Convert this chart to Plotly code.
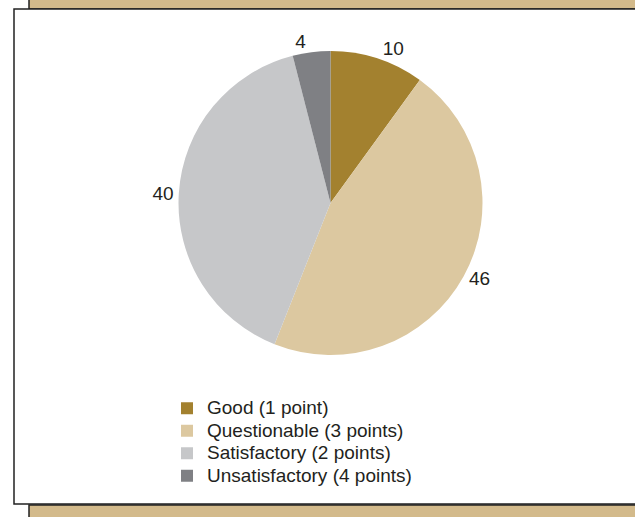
import plotly.graph_objects as go

categories = ["Good (1 point)", "Questionable (3 points)", "Satisfactory (2 points)", "Unsatisfactory (4 points)"]
values = [10, 46, 40, 4]
colors = ["#a3812f", "#dcc8a0", "#c6c7c9", "#7f8084"]

W, H = 635, 517

def px(x):
    return x / W

def py(y):
    return 1 - y / H

cx, cy, r = 330.5, 203, 152
FONT = "Liberation Sans, Arial, sans-serif"

# legend labels shown larger than the legend's row spacing font
legend_labels = ['<span style="font-size:19px">%s</span>' % c for c in categories]

fig = go.Figure(go.Pie(
    labels=legend_labels,
    values=values,
    marker=dict(colors=colors, line=dict(width=0)),
    sort=False,
    direction="clockwise",
    rotation=0,
    textinfo="value",
    textposition="outside",
    outsidetextfont=dict(size=19, color="#231f20", family=FONT),
    hole=0,
    domain=dict(x=[px(cx - r), px(cx + r)], y=[py(cy + r), py(cy - r)]),
    automargin=False,
    hoverinfo="value+percent",
))

tan = "#d3ba8b"
shapes = [
    dict(type="rect", xref="paper", yref="paper", x0=px(29), x1=px(640), y0=py(9), y1=py(-5),
         fillcolor=tan, line=dict(color="#222222", width=1.5), layer="below"),
    dict(type="rect", xref="paper", yref="paper", x0=px(29), x1=px(640), y0=py(525), y1=py(505),
         fillcolor=tan, line=dict(color="#222222", width=1.5), layer="below"),
    dict(type="rect", xref="paper", yref="paper", x0=px(14), x1=px(640), y0=py(504), y1=py(9),
         fillcolor="white", line=dict(color="#222222", width=1.5), layer="below"),
]

fig.update_layout(
    width=W, height=H,
    margin=dict(l=0, r=0, t=0, b=0),
    paper_bgcolor="white",
    plot_bgcolor="white",
    shapes=shapes,
    showlegend=True,
    legend=dict(
        x=px(167), y=py(392), xanchor="left", yanchor="top",
        font=dict(size=15, color="#231f20", family=FONT),
        bgcolor="rgba(0,0,0,0)",
        itemclick=False,
    ),
    font=dict(family=FONT),
)

fig.write_html("out.html", config={"displayModeBar": False},
               post_script="document.body.style.margin='0';")
